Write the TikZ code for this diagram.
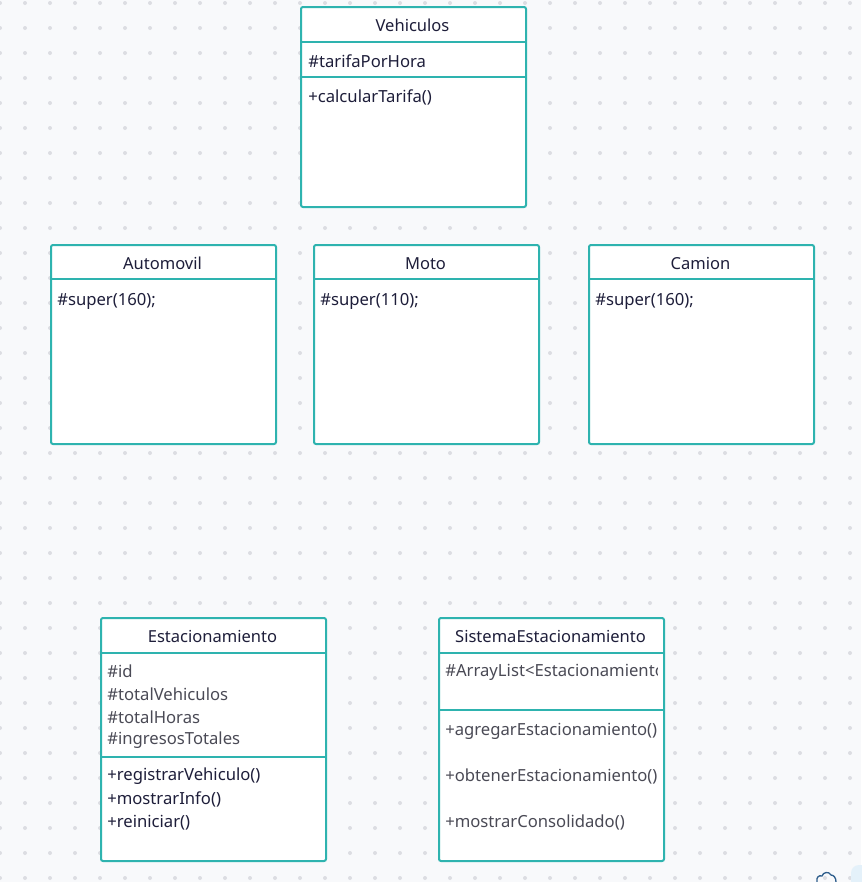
\documentclass[tikz,border=0pt]{standalone}
\usepackage{fontspec}
\setmainfont{Noto Sans}
\definecolor{bgc}{HTML}{F8F9FB}
\definecolor{dotc}{HTML}{DCDDE2}
\definecolor{teal}{HTML}{2EB3AF}
\definecolor{txt}{HTML}{1E1E3A}
\definecolor{txtg}{HTML}{4A4A55}
\definecolor{cloudc}{HTML}{2F5E8C}
\definecolor{panelc}{HTML}{E4F1FA}
\begin{document}
\begin{tikzpicture}[x=0.75pt,y=-0.75pt,
  classbox/.style={draw=teal,fill=white,line width=1.5pt,rounded corners=1.5pt,anchor=north west,inner sep=0pt,minimum width=168.75pt},
  divider/.style={draw=teal,line width=1.5pt},
  title/.style={text=txt,font=\fontsize{12.4}{14}\selectfont,inner sep=0pt,anchor=center},
  member/.style={text=txt,font=\fontsize{12.5}{14}\selectfont,inner sep=0pt,anchor=west},
  memberg/.style={member,text=txtg}]
\useasboundingbox (0,0) rectangle (861,882);
\fill[bgc] (0,0) rectangle (861,882);
\foreach \i in {0,...,34}{\foreach \j in {0,...,35}{\fill[dotc] (25*\i,3+25*\j) circle (1.5pt);}}
% Vehiculos
\node[classbox,minimum height=150pt] (veh) at (300,6) {};
\draw[divider] (300,42) -- (525,42);
\draw[divider] (300,77) -- (525,77);
\node[title] (vehT) at (412.5,25) {Vehiculos};
\node[member] (vehA) at (308,61.5) {\#tarifaPorHora};
\node[member] (vehM) at (308,97.5) {+calcularTarifa()};
% Automovil
\node[classbox,minimum height=149.25pt] (auto) at (50,244) {};
\draw[divider] (50,279) -- (275,279);
\node[title] (autoT) at (162.5,263.5) {Automovil};
\node[member] (autoA) at (57,301) {\#super(160);};
% Moto
\node[classbox,minimum height=149.25pt] (moto) at (313,244) {};
\draw[divider] (313,279) -- (538,279);
\node[title] (motoT) at (425.5,263.5) {Moto};
\node[member] (motoA) at (320,301) {\#super(110);};
% Camion
\node[classbox,minimum height=149.25pt] (cam) at (588,244) {};
\draw[divider] (588,279) -- (813,279);
\node[title] (camT) at (700.5,263.5) {Camion};
\node[member] (camA) at (595,301) {\#super(160);};
% Estacionamiento
\node[classbox,minimum height=182.25pt] (est) at (100,617) {};
\draw[divider] (100,653) -- (325,653);
\draw[divider] (100,757) -- (325,757);
\node[title] (estT) at (212.5,636) {Estacionamiento};
\node[memberg] (estA1) at (107,671) {\#id};
\node[memberg] (estA2) at (107,694) {\#totalVehiculos};
\node[memberg] (estA3) at (107,717) {\#totalHoras};
\node[memberg] (estA4) at (107,740.5) {\#ingresosTotales};
\node[member] (estM1) at (107,776) {+registrarVehiculo()};
\node[member] (estM2) at (107,799) {+mostrarInfo()};
\node[member] (estM3) at (107,822.5) {+reiniciar()};
% SistemaEstacionamiento
\node[classbox,minimum height=182.25pt] (sis) at (438,617) {};
\draw[divider] (438,653) -- (663,653);
\draw[divider] (438,710) -- (663,710);
\node[title] (sisT) at (550.5,636) {SistemaEstacionamiento};
\begin{scope}
\clip (439,654) rectangle (657,709);
\node[memberg] (sisA) at (445,672) {\#ArrayList<Estacionamiento>};
\end{scope}
\node[memberg] (sisM1) at (445,731) {+agregarEstacionamiento()};
\node[memberg] (sisM2) at (445,776) {+obtenerEstacionamiento()};
\node[memberg] (sisM3) at (445,822) {+mostrarConsolidado()};
% corner widgets
\fill[panelc,rounded corners=6pt] (851,865) rectangle (875,900);
\draw[cloudc,line width=1pt] (817,882) .. controls (816,877) and (819,875) .. (822,876) .. controls (823,872) and (829,871) .. (831,875) .. controls (834,875) and (836,878) .. (836,882);
\end{tikzpicture}
\end{document}
